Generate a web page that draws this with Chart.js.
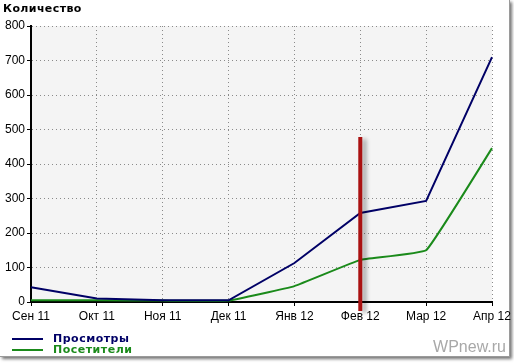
<!DOCTYPE html>
<html>
<head>
<meta charset="utf-8">
<script src="https://cdn.jsdelivr.net/npm/chart.js@4"></script>
<style>
  html, body { margin: 0; padding: 0; background: #fff; }
  #wrap { position: relative; width: 514px; height: 364px; overflow: hidden; }
  #frame {
    position: absolute; left: 0; top: 0; width: 509px; height: 356px;
    border-right: 1px solid #9a9a9a; border-bottom: 1px solid #9a9a9a;
    box-shadow: 2px 2px 3px rgba(0,0,0,0.55); background: #fff;
  }
  canvas { position: absolute; left: 0; top: 0; }
  .title { position: absolute; left: 3px; top: 2px; font: bold 11px "DejaVu Sans"; letter-spacing: 0.4px; color: #000; }
  .legend { position: absolute; left: 12px; font: bold 11px "DejaVu Sans"; letter-spacing: 0.5px; line-height: 11px; }
  .legend span.ln { display: inline-block; width: 31px; height: 2px; vertical-align: middle; margin-right: 10px; }
  .mark { position: absolute; right: 8px; top: 338px; font: 16px "Liberation Sans"; color: #a8a8a8; }
</style>
</head>
<body>
<div id="wrap">
  <div id="frame"></div>
  <canvas id="chart" width="514" height="364"></canvas>
  <div class="title">Количество</div>
  <div class="legend" style="top:333px;color:#000066"><span class="ln" style="background:#000066"></span>Просмотры</div>
  <div class="legend" style="top:344px;color:#1a8a1a"><span class="ln" style="background:#1a8a1a"></span>Посетители</div>
  <div class="mark">WPnew.ru</div>
</div>
<script>
// months on the x axis
const months = ['Сен 11', 'Окт 11', 'Ноя 11', 'Дек 11', 'Янв 12', 'Фев 12', 'Мар 12', 'Апр 12'];

// series values
const views = [43, 10, 5, 5, 113, 258, 293, 710];
const visitors = [5, 5, 4, 4, 46, 122, 150, 446];

// red marker bar at February
const markerMonth = 'Фев 12';
const markerTop = 478;
const markerBottom = -26;

const plotBackground = {
  id: 'plotBackground',
  beforeDraw(chart) {
    const { ctx, chartArea } = chart;
    ctx.save();
    ctx.fillStyle = '#f4f4f4';
    ctx.fillRect(chartArea.left, chartArea.top, chartArea.right - chartArea.left, chartArea.bottom - chartArea.top);
    ctx.restore();
  }
};

const markerBar = {
  id: 'markerBar',
  afterDraw(chart) {
    const { ctx } = chart;
    const x = chart.scales.x.getPixelForValue(months.indexOf(markerMonth));
    const y1 = chart.scales.y.getPixelForValue(markerTop);
    const y2 = chart.scales.y.getPixelForValue(markerBottom);
    ctx.save();
    ctx.shadowColor = 'rgba(0,0,0,0.35)';
    ctx.shadowOffsetX = 4;
    ctx.shadowOffsetY = 2;
    ctx.shadowBlur = 4;
    ctx.strokeStyle = '#aa1111';
    ctx.lineWidth = 4;
    ctx.beginPath();
    ctx.moveTo(x, y1);
    ctx.lineTo(x, y2);
    ctx.stroke();
    ctx.restore();
  }
};

new Chart(document.getElementById('chart'), {
  type: 'line',
  data: {
    labels: months,
    datasets: [{
      label: 'Просмотры',
      data: views,
      borderColor: '#000066',
      borderWidth: 2,
      pointRadius: 0,
      tension: 0
    }, {
      label: 'Посетители',
      data: visitors,
      borderColor: '#1a8a1a',
      borderWidth: 2,
      pointRadius: 0,
      tension: 0.08
    }]
  },
  options: {
    responsive: false,
    animation: false,
    layout: { padding: { left: 0, top: 26, right: 22, bottom: 32 } },
    plugins: { legend: { display: false }, tooltip: { enabled: false } },
    scales: {
      x: {
        offset: false,
        afterFit: (scale) => { scale.height = 30; },
        grid: { color: '#8a8a8a', tickColor: '#000', tickLength: 4, tickWidth: 1 },
        border: { color: '#000', width: 2, dash: [1, 3] },
        ticks: { color: '#000', font: { family: 'Liberation Sans', size: 12 }, padding: 3, maxRotation: 0 }
      },
      y: {
        min: 0,
        max: 800,
        afterFit: (scale) => { scale.width = 31; },
        grid: { color: '#8a8a8a', tickColor: '#000', tickLength: 4, tickWidth: 1 },
        border: { color: '#000', width: 2, dash: [1, 3] },
        ticks: { stepSize: 100, color: '#000', font: { family: 'Liberation Sans', size: 12 }, padding: 2 }
      }
    }
  },
  plugins: [plotBackground, markerBar]
});
</script>
</body>
</html>
